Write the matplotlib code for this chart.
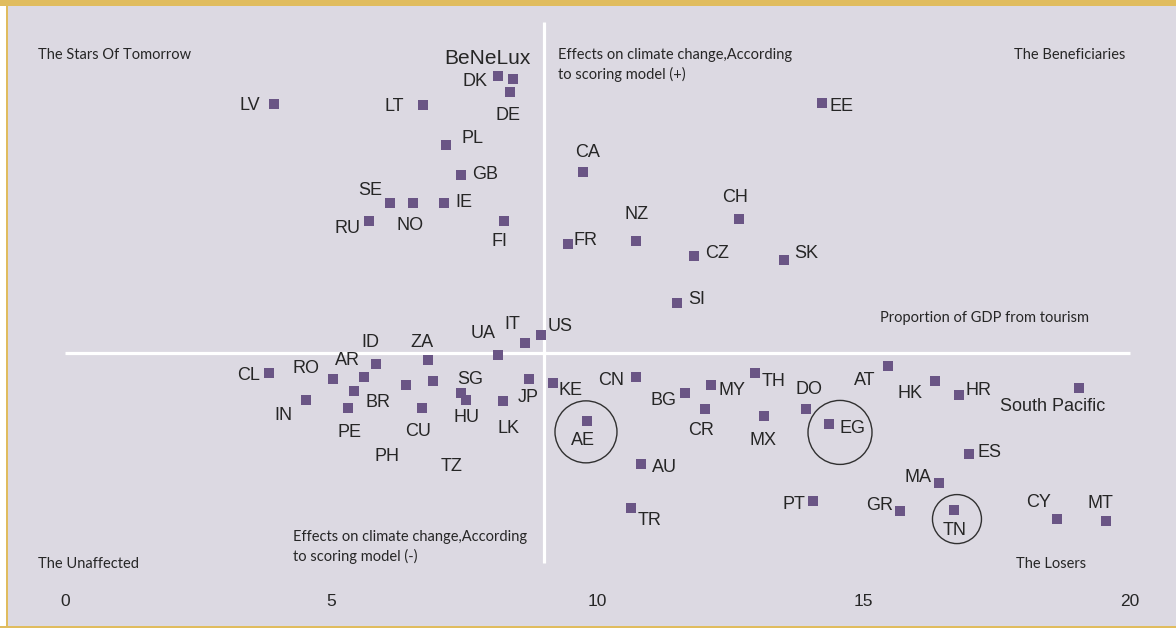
import matplotlib
matplotlib.use("Agg")
import matplotlib.pyplot as plt
from matplotlib.patches import Rectangle, Ellipse

# share of GDP from tourism (x) vs. climate-change score (y, 0 = neutral)
countries = ["LV", "LT", "DK", "BeNeLux", "DE", "PL", "GB", "SE", "NO", "IE",
             "RU", "FI", "FR", "CA", "EE", "CH", "NZ", "CZ", "SK", "SI",
             "US", "IT", "UA", "CL", "RO", "ID", "AR", "BR", "PE", "IN",
             "PH", "ZA", "TZ", "CU", "SG", "HU", "LK", "JP", "KE", "AE",
             "CN", "BG", "MY", "CR", "TH", "MX", "DO", "EG", "AT", "HK",
             "HR", "South Pacific", "AU", "ES", "MA", "PT", "TR", "GR", "TN", "CY",
             "MT"]
tourism_gdp = [3.93, 6.73, 8.14, 8.42, 8.35, 7.15, 7.43, 6.11, 6.54, 7.12,
               5.71, 8.25, 9.44, 9.72, 14.21, 12.65, 10.73, 11.82, 13.51, 11.50,
               8.94, 8.63, 8.13, 3.84, 5.03, 5.84, 5.62, 5.43, 5.32, 4.53,
               6.41, 6.82, 6.91, 6.71, 7.43, 7.53, 8.23, 8.72, 9.17, 9.81,
               10.73, 11.64, 12.14, 12.02, 12.95, 13.12, 13.92, 14.34, 15.45, 16.33,
               16.78, 19.04, 10.81, 16.98, 16.42, 14.04, 10.62, 15.69, 16.70, 18.62,
               19.55]
climate_score = [4.67, 4.66, 5.20, 5.15, 4.91, 3.90, 3.34, 2.82, 2.81, 2.81,
                 2.48, 2.47, 2.04, 3.39, 4.69, 2.52, 2.10, 1.82, 1.74, 0.94,
                 0.33, 0.18, -0.04, -0.38, -0.48, -0.21, -0.46, -0.72, -1.04, -0.89,
                 -0.61, -0.14, -0.53, -1.04, -0.75, -0.89, -0.90, -0.48, -0.57, -1.28,
                 -0.46, -0.76, -0.61, -1.05, -0.37, -1.18, -1.06, -1.33, -0.25, -0.53,
                 -0.78, -0.65, -2.08, -1.90, -2.45, -2.77, -2.92, -2.97, -2.95, -3.12,
                 -3.16]
x_ticks = [0, 5, 10, 15, 20]
highlighted = ["AE", "EG", "TN"]

# label placement: offset in pixels from the marker, horizontal alignment
label_pos = {
    "LV": (-14, 0, "right"), "LT": (-19, 0, "right"), "DK": (-11, -4, "right"),
    "BeNeLux": (-26, 22, "center"), "DE": (-2, -22, "center"), "PL": (16, 8, "left"),
    "GB": (11, 2, "left"), "SE": (-20, 14, "center"), "NO": (-3, -21, "center"),
    "IE": (11, 2, "left"), "RU": (-9, -6, "right"), "FI": (-5, -19, "center"),
    "FR": (6, 5, "left"), "CA": (5, 21, "center"), "EE": (8, -2, "left"),
    "CH": (-4, 23, "center"), "NZ": (0, 28, "center"), "CZ": (11, 4, "left"),
    "SK": (10, 8, "left"), "SI": (11, 5, "left"), "US": (7, 10, "left"),
    "IT": (-12, 20, "center"), "UA": (-15, 23, "center"), "CL": (-9, -1, "right"),
    "RO": (-27, 12, "center"), "ID": (-6, 23, "center"), "AR": (-17, 18, "center"),
    "BR": (11, -10, "left"), "PE": (1, -23, "center"), "IN": (-23, -14, "center"),
    "PH": (-19, -70, "center"), "ZA": (-6, 19, "center"), "TZ": (19, -84, "center"),
    "CU": (-4, -22, "center"), "SG": (10, 15, "center"), "HU": (1, -16, "center"),
    "LK": (5, -26, "center"), "JP": (-1, -17, "center"), "KE": (5, -6, "left"),
    "AE": (-4, -18, "center"), "CN": (-12, -2, "right"), "BG": (-8, -6, "right"),
    "MY": (7, -4, "left"), "CR": (-4, -20, "center"), "TH": (7, -7, "left"),
    "MX": (-1, -23, "center"), "DO": (3, 21, "center"), "EG": (11, -3, "left"),
    "AT": (-23, -13, "center"), "HK": (-25, -11, "center"), "HR": (7, 6, "left"),
    "South Pacific": (-26, -17, "center"), "AU": (11, -2, "left"), "ES": (8, 3, "left"),
    "MA": (-8, 7, "right"), "PT": (-7, -2, "right"), "TR": (7, -11, "left"),
    "GR": (-7, 7, "right"), "TN": (0, -19, "center"), "CY": (-18, 18, "center"),
    "MT": (-6, 19, "center"),
}
LABEL_SHIFT = -1.5  # caps sit a little high with va="center"
# circle offset (px, right/down) and radius (px)
rings = {"AE": (-1.4, 10.7, 31), "EG": (11.4, 8.6, 32), "TN": (2.7, 9.0, 24.5)}

W, H = 1176, 628
PX = 53.25          # pixels per unit
X0, Y0 = 65, 353    # pixel position of (0, 0)

BG = "#dcd9e2"
GOLD = "#e0bc5e"
PURPLE = "#6a5585"
INK = "#262626"
SMALL = "Lato"

fig = plt.figure(figsize=(W / 100, H / 100), dpi=100)
fig.patch.set_facecolor("white")
fig.patches.append(Rectangle((6 / W, 1.5 / H), 1, 1, transform=fig.transFigure,
                             facecolor=BG, edgecolor="none", zorder=0))
fig.patches.append(Rectangle((0, 1 - 6 / H), 1, 6 / H, transform=fig.transFigure,
                             facecolor=GOLD, edgecolor="none", zorder=1))
fig.patches.append(Rectangle((5.5 / W, 0), 2 / W, 1, transform=fig.transFigure,
                             facecolor=GOLD, edgecolor="none", zorder=1))
fig.patches.append(Rectangle((0, 0), 1, 2 / H, transform=fig.transFigure,
                             facecolor=GOLD, edgecolor="none", zorder=1))

ax = fig.add_axes([0, 0, 1, 1])
ax.set_zorder(5)
ax.patch.set_visible(False)
ax.set_xlim(-X0 / PX, (W - X0) / PX)
ax.set_ylim((Y0 - H) / PX, Y0 / PX)
ax.axis("off")

def py(p):
    return (Y0 - p) / PX

# crosshair
ax.plot([0, 20], [0, 0], color="white", lw=2.3, zorder=1, solid_capstyle="butt")
ax.plot([9.0, 9.0], [py(22), py(563)], color="white", lw=2.3, zorder=1,
        solid_capstyle="butt")

ax.scatter(tourism_gdp, climate_score, marker="s", s=62, color=PURPLE,
           linewidths=0, zorder=3)

for name, x, y in zip(countries, tourism_gdp, climate_score):
    dx, dy, ha = label_pos[name]
    ax.annotate(name, (x, y), xytext=(dx, dy + LABEL_SHIFT), textcoords="offset pixels",
                ha=ha, va="center", fontsize=15 if name == "BeNeLux" else 13,
                family="Liberation Sans", color=INK, zorder=4)
    if name in highlighted:
        ox, oy, r = rings[name]
        ax.add_patch(Ellipse((x + ox / PX, y - oy / PX), 2 * r / PX, 2 * r / PX,
                             fill=False, edgecolor="#303030", lw=1.0, zorder=2))

for t in x_ticks:
    ax.text(t, py(601), str(t), ha="center", va="center", fontsize=12.5,
            family="Liberation Sans", color=INK)

def note(px_, py_, s, ha="left"):
    fig.text(px_ / W, 1 - py_ / H, s, ha=ha, va="center", fontsize=10.5,
             family=SMALL, color=INK, linespacing=1.45, zorder=6)

note(38, 55, "The Stars Of Tomorrow")
note(1125, 55, "The Beneficiaries", ha="right")
note(558, 65, "Effects on climate change,According\nto scoring model (+)")
note(880, 318, "Proportion of GDP from tourism")
note(293, 547, "Effects on climate change,According\nto scoring model (-)")
note(38, 564, "The Unaffected")
note(1086, 564, "The Losers", ha="right")

fig.savefig("out.png", dpi=100, facecolor=fig.get_facecolor())
